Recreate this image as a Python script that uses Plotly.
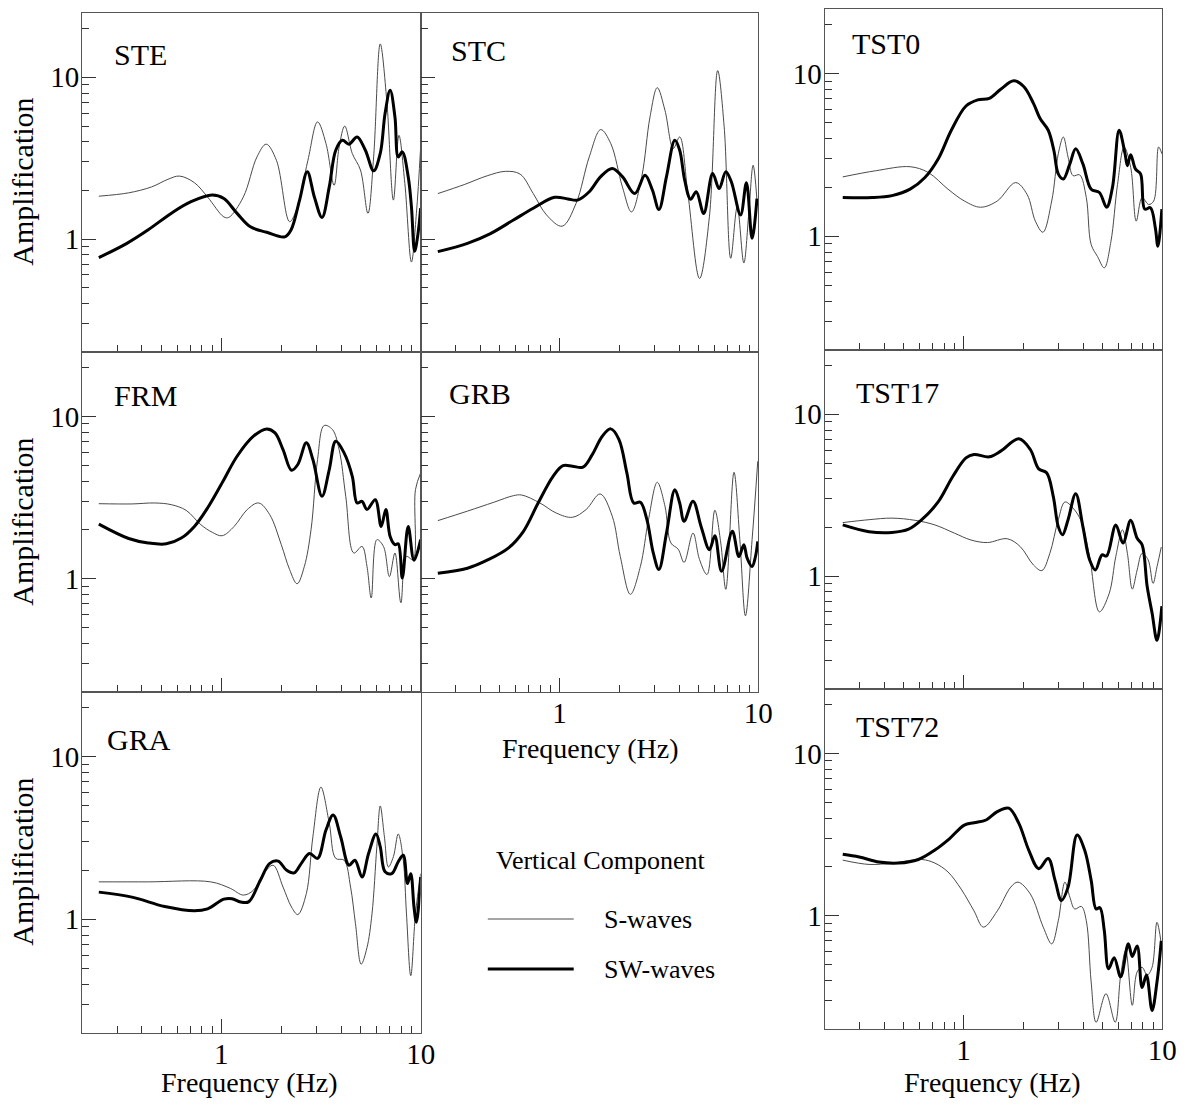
import math
import plotly.graph_objects as go

W, H = 1195, 1106
FONT = "Liberation Serif"

# ---- spectral ratios: frequency (Hz) and amplification -------------------
# STE
ste_s_freq = [0.243, 0.343, 0.447, 0.54, 0.617, 0.733, 0.853, 1.03, 1.09, 1.29, 1.51, 1.68, 1.89, 2.20, 2.38,
              2.72, 3.04, 3.35, 3.68, 3.90, 4.16, 4.54, 4.99, 5.44, 5.81, 6.27, 6.76, 7.30, 7.78, 8.33, 8.99,
              9.52, 10.0]
ste_s_amp = [1.84, 1.93, 2.10, 2.34, 2.45, 2.23, 1.82, 1.37, 1.36, 1.82, 3.22, 3.86, 3.07, 1.28, 1.51,
             3.07, 5.3, 3.9, 2.15, 3.71, 4.99, 3.38, 2.67, 1.44, 3.22, 16.1, 7.21, 1.74, 4.38, 2.21, 0.72,
             1.44, 3.71]
ste_sw_freq = [0.243, 0.336, 0.43, 0.56, 0.705, 0.90, 1.03, 1.20, 1.40, 1.69, 2.08, 2.24, 2.47, 2.70, 2.93,
               3.20, 3.48, 3.75, 4.05, 4.37, 4.80, 5.28, 5.81, 6.27, 6.63, 7.03, 7.43, 7.72, 8.09, 8.66,
               8.99, 9.33, 9.70, 10.0]
ste_sw_amp = [0.767, 0.94, 1.14, 1.44, 1.70, 1.87, 1.78, 1.44, 1.19, 1.10, 1.03, 1.14, 1.74, 2.61, 1.82,
              1.36, 2.10, 3.54, 4.08, 3.86, 4.28, 3.54, 2.64, 3.38, 5.97, 8.31, 5.69, 3.22, 3.46, 2.43,
              1.58, 0.84, 1.08, 1.55]

# STC
stc_s_freq = [0.244, 0.331, 0.432, 0.533, 0.633, 0.737, 0.859, 1.03, 1.21, 1.41, 1.61, 1.81, 2.07, 2.30,
              2.59, 2.85, 3.10, 3.39, 3.73, 4.02, 4.42, 5.06, 5.67, 6.24, 6.73, 7.26, 7.83, 8.45, 8.95,
              9.41, 9.84]
stc_s_amp = [1.91, 2.17, 2.46, 2.62, 2.52, 1.91, 1.41, 1.20, 1.66, 3.22, 4.75, 3.89, 2.10, 1.47,
             2.43, 5.69, 8.63, 6.25, 3.63, 4.28, 1.91, 0.57, 1.37, 11.0, 4.94, 0.76, 1.58, 0.71, 1.44,
             2.86, 1.74]
stc_sw_freq = [0.244, 0.344, 0.449, 0.586, 0.737, 0.944, 1.10, 1.23, 1.41, 1.61, 1.84, 2.07, 2.39, 2.69,
               2.93, 3.16, 3.45, 3.80, 4.02, 4.26, 4.56, 4.87, 5.31, 5.89, 6.35, 6.86, 7.31, 8.14, 8.71,
               9.30, 9.84]
stc_sw_amp = [0.835, 0.94, 1.08, 1.31, 1.55, 1.81, 1.77, 1.74, 1.96, 2.43, 2.73, 2.43, 1.91, 2.48,
              2.01, 1.52, 2.43, 4.08, 3.54, 2.31, 1.76, 1.96, 1.44, 2.54, 2.05, 2.61, 2.26, 1.41, 2.23,
              1.01, 1.78]

# TST0
tst0_s_freq = [0.247, 0.361, 0.539, 0.665, 0.836, 1.01, 1.22, 1.48, 1.83, 2.09, 2.30, 2.51, 2.78, 3.00,
               3.18, 3.36, 3.56, 3.84, 4.15, 4.39, 4.73, 5.11, 5.52, 5.96, 6.43, 6.94, 7.40, 7.92, 8.55,
               9.06, 9.59, 9.96]
tst0_s_amp = [2.32, 2.53, 2.68, 2.47, 1.95, 1.65, 1.51, 1.65, 2.14, 1.81, 1.24, 1.06, 1.65, 3.22,
              4.08, 3.07, 2.36, 2.39, 1.73, 0.89, 0.75, 0.64, 0.93, 2.09, 3.54, 2.66, 1.24, 1.73, 1.57,
              1.65, 3.54, 3.22]
tst0_sw_freq = [0.247, 0.348, 0.437, 0.539, 0.64, 0.746, 0.869, 1.03, 1.18, 1.35, 1.54, 1.79, 2.01, 2.25,
                2.43, 2.67, 2.85, 3.00, 3.18, 3.43, 3.67, 3.99, 4.39, 4.83, 5.25, 5.62, 6.07, 6.50, 6.68,
                6.94, 7.34, 7.78, 8.17, 8.72, 9.23, 9.51, 9.96]
tst0_sw_amp = [1.73, 1.73, 1.78, 1.95, 2.30, 2.99, 4.49, 6.33, 6.90, 7.06, 8.03, 9.05, 8.34, 6.57,
               5.30, 4.49, 3.37, 2.42, 2.25, 2.79, 3.45, 2.79, 1.95, 1.86, 1.51, 2.00, 4.49, 3.22, 2.72,
               3.18, 2.59, 2.42, 1.47, 1.50, 1.13, 0.87, 1.47]

# FRM
frm_s_freq = [0.243, 0.356, 0.464, 0.561, 0.666, 0.79, 0.902, 1.01, 1.16, 1.35, 1.54, 1.75, 2.00, 2.20,
              2.40, 2.61, 2.82, 3.04, 3.28, 3.61, 3.90, 4.21, 4.62, 5.08, 5.38, 5.65, 6.03, 6.51, 6.97,
              7.43, 7.96, 8.49, 9.16, 9.42, 10.0]
frm_s_amp = [2.90, 2.89, 2.93, 2.86, 2.64, 2.15, 1.93, 1.84, 2.10, 2.67, 2.93, 2.48, 1.62, 1.14,
             0.93, 1.19, 2.01, 5.43, 8.80, 8.31, 6.25, 3.22, 1.44, 1.58, 1.19, 0.76, 1.74, 1.58, 1.03,
             1.44, 0.71, 1.37, 1.31, 3.54, 4.49]
frm_sw_freq = [0.243, 0.343, 0.43, 0.53, 0.63, 0.733, 0.853, 1.03, 1.20, 1.45, 1.69, 1.86, 2.04, 2.25,
               2.42, 2.67, 2.88, 3.20, 3.48, 3.75, 4.13, 4.54, 4.80, 5.08, 5.38, 5.92, 6.34, 6.69, 7.03,
               7.43, 7.72, 8.09, 8.66, 9.26, 10.0]
frm_sw_amp = [2.17, 1.77, 1.66, 1.64, 1.78, 2.10, 2.73, 4.08, 5.69, 7.56, 8.39, 7.93, 6.25, 4.66,
              5.06, 6.88, 5.43, 3.22, 4.71, 7.04, 5.97, 4.28, 2.93, 3.00, 2.67, 3.07, 2.10, 2.67, 1.82,
              1.62, 1.64, 1.01, 2.10, 1.30, 1.74]

# GRB
grb_s_freq = [0.244, 0.344, 0.467, 0.586, 0.645, 0.796, 0.962, 1.16, 1.36, 1.60, 1.84, 2.02, 2.27, 2.55,
              2.80, 3.10, 3.39, 3.63, 3.95, 4.23, 4.69, 5.06, 5.52, 6.04, 6.47, 6.86, 7.54, 8.07, 8.61,
              9.30, 9.93]
grb_s_amp = [2.28, 2.61, 2.96, 3.25, 3.28, 2.93, 2.54, 2.39, 2.67, 3.33, 2.43, 1.37, 0.80, 1.19,
             2.31, 3.93, 2.80, 1.66, 1.52, 1.26, 1.91, 1.31, 1.06, 2.64, 1.66, 0.86, 4.53, 1.74, 0.59,
             1.74, 5.3]
grb_sw_freq = [0.244, 0.344, 0.432, 0.554, 0.658, 0.78, 0.927, 1.04, 1.16, 1.31, 1.46, 1.64, 1.81, 1.99,
               2.18, 2.36, 2.55, 2.75, 2.96, 3.16, 3.45, 3.80, 4.02, 4.23, 4.69, 5.15, 5.67, 6.04, 6.53,
               7.40, 7.98, 8.45, 8.78, 9.30, 9.66, 9.93]
grb_sw_amp = [1.08, 1.16, 1.30, 1.55, 1.96, 2.93, 4.28, 4.98, 4.94, 4.87, 5.82, 7.56, 8.39, 7.21,
              4.49, 2.93, 2.96, 2.31, 1.44, 1.14, 1.91, 3.54, 2.93, 2.26, 3.00, 2.10, 1.51, 1.84, 1.11,
              1.96, 1.37, 1.62, 1.34, 1.19, 1.36, 1.70]

# TST17
tst17_s_freq = [0.247, 0.335, 0.437, 0.571, 0.718, 0.902, 1.09, 1.32, 1.66, 1.93, 2.25, 2.48, 2.72, 3.00,
                3.24, 3.56, 3.92, 4.31, 4.83, 5.41, 5.84, 6.31, 6.68, 7.07, 7.48, 7.92, 8.49, 8.99, 9.41,
                9.89]
tst17_s_amp = [2.14, 2.23, 2.28, 2.21, 2.07, 1.84, 1.67, 1.61, 1.70, 1.52, 1.17, 1.08, 1.38, 2.23,
               2.87, 2.63, 2.17, 1.32, 0.60, 0.78, 1.32, 1.93, 1.38, 0.83, 1.09, 1.38, 1.26, 0.90, 1.14,
               1.51]
tst17_sw_freq = [0.247, 0.335, 0.437, 0.53, 0.617, 0.746, 0.885, 1.03, 1.13, 1.35, 1.54, 1.90, 2.17, 2.39,
                 2.62, 2.83, 3.00, 3.15, 3.36, 3.67, 3.99, 4.31, 4.61, 4.98, 5.25, 5.84, 6.35, 6.94, 7.48,
                 7.92, 8.40, 8.89, 9.41, 9.96]
tst17_sw_amp = [2.07, 1.88, 1.86, 1.95, 2.23, 2.87, 4.14, 5.38, 5.65, 5.46, 5.92, 7.06, 6.06, 4.60,
                4.35, 3.11, 2.02, 1.80, 2.23, 3.23, 2.02, 1.26, 1.09, 1.35, 1.33, 2.07, 1.60, 2.21, 1.71,
                1.56, 0.86, 0.59, 0.40, 0.65]

# GRA
gra_s_freq = [0.243, 0.43, 0.885, 1.11, 1.29, 1.45, 1.63, 1.82, 2.04, 2.25, 2.42, 2.67, 2.88, 3.16, 3.48,
              3.75, 4.13, 4.45, 4.71, 5.03, 5.38, 5.70, 6.03, 6.27, 6.58, 6.89, 7.30, 7.72, 8.18, 8.49,
              8.92, 9.42, 10.0]
gra_s_amp = [1.70, 1.70, 1.70, 1.55, 1.41, 1.51, 1.91, 2.15, 1.58, 1.19, 1.07, 1.44, 3.22, 6.50, 3.90,
             2.37, 2.31, 1.58, 0.94, 0.53, 0.67, 1.08, 2.80, 4.98, 3.22, 2.10, 2.43, 3.35, 2.31, 1.08,
             0.45, 1.08, 1.91]
gra_sw_freq = [0.243, 0.356, 0.52, 0.733, 0.853, 1.03, 1.13, 1.25, 1.37, 1.57, 1.75, 1.93, 2.12, 2.32,
               2.52, 2.77, 3.04, 3.35, 3.64, 3.97, 4.37, 4.68, 5.08, 5.48, 5.97, 6.27, 6.63, 7.16, 7.72,
               8.18, 8.59, 8.92, 9.26, 9.52, 10.0]
gra_sw_amp = [1.47, 1.37, 1.20, 1.13, 1.16, 1.33, 1.34, 1.28, 1.28, 1.74, 2.21, 2.28, 2.01, 1.93,
              2.21, 2.54, 2.37, 3.54, 4.38, 3.22, 2.15, 2.31, 1.82, 2.54, 3.35, 2.80, 1.96, 1.91, 2.26,
              2.48, 1.66, 1.91, 1.19, 0.96, 1.82]

# TST72
tst72_s_freq = [0.247, 0.335, 0.437, 0.617, 0.718, 0.836, 0.973, 1.13, 1.26, 1.48, 1.73, 1.88, 2.17, 2.52,
                2.78, 3.00, 3.24, 3.43, 3.63, 3.92, 4.15, 4.39, 4.65, 5.21, 5.80, 6.18, 6.55, 7.07, 7.48,
                7.92, 8.40, 8.89, 9.41, 9.89]
tst72_s_amp = [2.20, 2.07, 2.11, 2.22, 2.11, 1.86, 1.46, 1.07, 0.85, 1.07, 1.50, 1.61, 1.36, 0.85,
               0.67, 0.93, 1.61, 1.30, 1.10, 1.14, 0.93, 0.39, 0.22, 0.33, 0.22, 0.43, 0.61, 0.28, 0.45,
               0.48, 0.43, 0.48, 0.91, 0.67]
tst72_sw_freq = [0.247, 0.299, 0.376, 0.472, 0.593, 0.718, 0.852, 1.01, 1.13, 1.30, 1.48, 1.69, 1.90, 2.13,
                 2.39, 2.67, 2.89, 3.11, 3.36, 3.73, 4.07, 4.39, 4.65, 4.86, 5.11, 5.37, 5.73, 6.18, 6.75,
                 7.07, 7.48, 7.92, 8.33, 8.89, 9.41, 9.89]
tst72_sw_amp = [2.39, 2.30, 2.14, 2.11, 2.22, 2.54, 2.99, 3.62, 3.74, 3.89, 4.38, 4.60, 3.71, 2.54,
                1.95, 2.25, 1.65, 1.24, 1.50, 3.14, 2.54, 1.65, 1.10, 1.12, 0.81, 0.47, 0.55, 0.42, 0.67,
                0.56, 0.65, 0.36, 0.43, 0.26, 0.39, 0.70]

# axis ticks
major_ticks = [1, 10]
major_labels = ["1", "10"]
x_minor = [0.3, 0.4, 0.5, 0.6, 0.7, 0.8, 0.9, 2, 3, 4, 5, 6, 7, 8, 9]
y_minor = [0.3, 0.4, 0.5, 0.6, 0.7, 0.8, 0.9, 2, 3, 4, 5, 6, 7, 8, 9, 20]
x_range = [math.log10(0.2), 1.0]
y_range = [math.log10(0.2), math.log10(25)]

# panel boxes in pixels: (left, top, right, bottom)
panels = [
    ("STE", (83, 13, 426, 352), ste_s_freq, ste_s_amp, ste_sw_freq, ste_sw_amp, True, False, (113, 54)),
    ("STC", (426, 13, 768, 352), stc_s_freq, stc_s_amp, stc_sw_freq, stc_sw_amp, False, False, (455, 50)),
    ("TST0", (835, 9, 1177, 350), tst0_s_freq, tst0_s_amp, tst0_sw_freq, tst0_sw_amp, True, False, (861, 43)),
    ("FRM", (83, 352, 426, 692), frm_s_freq, frm_s_amp, frm_sw_freq, frm_sw_amp, True, False, (113, 395)),
    ("GRB", (426, 352, 768, 692), grb_s_freq, grb_s_amp, grb_sw_freq, grb_sw_amp, False, True, (453, 393)),
    ("TST17", (835, 350, 1177, 689), tst17_s_freq, tst17_s_amp, tst17_sw_freq, tst17_sw_amp, True, False, (865, 392)),
    ("GRA", (83, 692, 426, 1033), gra_s_freq, gra_s_amp, gra_sw_freq, gra_sw_amp, True, True, (106, 739)),
    ("TST72", (835, 689, 1177, 1029), tst72_s_freq, tst72_s_amp, tst72_sw_freq, tst72_sw_amp, True, True, (865, 726)),
]

LINE = "#555555"
TICK = "#333333"


def px(x):
    return x / W


def py(y):
    return 1 - y / H


fig = go.Figure()
layout = dict(
    width=W, height=H,
    margin=dict(l=0, r=0, t=0, b=0),
    paper_bgcolor="white", plot_bgcolor="white",
    showlegend=False,
    font=dict(family=FONT, color="black"),
)
annotations = []
shapes = []

for i, (name, (l, t, r, b), sf, sa, wf, wa, ylab, xlab, (lx, ly)) in enumerate(panels, start=1):
    xa = "x" if i == 1 else f"x{i}"
    ya = "y" if i == 1 else f"y{i}"
    layout["xaxis" if i == 1 else f"xaxis{i}"] = dict(
        type="log", range=x_range, domain=[px(l), px(r)], anchor=ya,
        tickmode="array", tickvals=major_ticks, ticktext=major_labels,
        showticklabels=xlab, ticks="inside", ticklen=14, tickwidth=1, tickcolor=TICK,
        ticklabelstandoff=-5,
        minor=dict(tickmode="array", tickvals=x_minor, ticks="inside", ticklen=7,
                   tickwidth=1, tickcolor=TICK, showgrid=False),
        showline=True, mirror=True, linecolor=LINE, linewidth=1,
        showgrid=False, zeroline=False,
        tickfont=dict(family=FONT, size=29, color="black"),
    )
    layout["yaxis" if i == 1 else f"yaxis{i}"] = dict(
        type="log", range=y_range, domain=[py(b), py(t)], anchor=xa,
        tickmode="array", tickvals=major_ticks, ticktext=major_labels,
        showticklabels=ylab, ticks="inside", ticklen=14, tickwidth=1, tickcolor=TICK,
        ticklabelstandoff=-4,
        minor=dict(tickmode="array", tickvals=y_minor, ticks="inside", ticklen=7,
                   tickwidth=1, tickcolor=TICK, showgrid=False),
        showline=True, mirror=True, linecolor=LINE, linewidth=1,
        showgrid=False, zeroline=False,
        tickfont=dict(family=FONT, size=29, color="black"),
    )
    fig.add_trace(go.Scatter(x=sf, y=sa, mode="lines", xaxis=xa, yaxis=ya,
                             line=dict(color="#4a4a4a", width=1, shape="spline"),
                             hoverinfo="skip"))
    fig.add_trace(go.Scatter(x=wf, y=wa, mode="lines", xaxis=xa, yaxis=ya,
                             line=dict(color="black", width=3, shape="spline"),
                             hoverinfo="skip"))
    annotations.append(dict(text=name, x=px(lx), y=py(ly), xref="paper", yref="paper",
                            xanchor="left", yanchor="middle", showarrow=False,
                            font=dict(family=FONT, size=30, color="black")))

# axis titles
for cy in (182, 522, 862):
    annotations.append(dict(text="Amplification", x=px(22), y=py(cy), xref="paper", yref="paper",
                            textangle=-90, xanchor="center", yanchor="middle", showarrow=False,
                            font=dict(family=FONT, size=30, color="black")))
for cx, cy in ((252, 1082), (597, 749), (1005, 1082)):
    annotations.append(dict(text="Frequency (Hz)", x=px(cx), y=py(cy), xref="paper", yref="paper",
                            xanchor="center", yanchor="middle", showarrow=False,
                            font=dict(family=FONT, size=28, color="black")))

# key
annotations.append(dict(text="Vertical Component", x=px(608), y=py(860), xref="paper", yref="paper",
                        xanchor="center", yanchor="middle", showarrow=False,
                        font=dict(family=FONT, size=26, color="black")))
for label, yy, wd, col in (("S-waves", 919, 1, "#4a4a4a"), ("SW-waves", 969, 3, "black")):
    shapes.append(dict(type="line", xref="paper", yref="paper", x0=px(494), x1=px(581),
                       y0=py(yy), y1=py(yy), line=dict(color=col, width=wd)))
    annotations.append(dict(text=label, x=px(610), y=py(yy), xref="paper", yref="paper",
                            xanchor="left", yanchor="middle", showarrow=False,
                            font=dict(family=FONT, size=26, color="black")))

layout["annotations"] = annotations
layout["shapes"] = shapes
fig.update_layout(**layout)
fig.write_html("out.html")
